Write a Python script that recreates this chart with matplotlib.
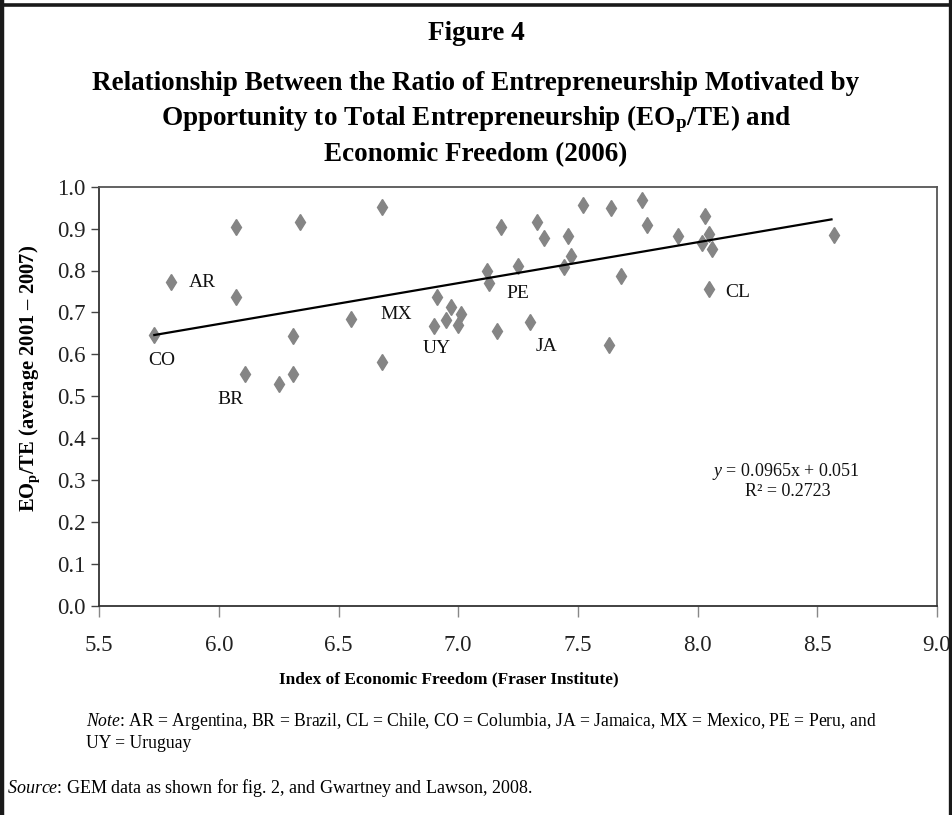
import matplotlib
matplotlib.use("Agg")
import matplotlib.pyplot as plt
from matplotlib.lines import Line2D

plt.rcParams['font.family'] = ['Liberation Serif', 'DejaVu Serif']
plt.rcParams['mathtext.fontset'] = 'custom'
plt.rcParams['mathtext.rm'] = 'Liberation Serif'
plt.rcParams['mathtext.it'] = 'Liberation Serif:italic'
plt.rcParams['mathtext.bf'] = 'Liberation Serif:bold'

# ---- data ----
freedom_index = [5.73, 5.80, 6.07, 6.07, 6.11, 6.34, 6.31, 6.25, 6.31, 6.68,
                 6.55, 6.68, 6.91, 6.90, 6.95, 6.97, 7.01, 7.00, 7.12, 7.13,
                 7.18, 7.16, 7.25, 7.30, 7.33, 7.36, 7.44, 7.46, 7.47, 7.52,
                 7.64, 7.63, 7.68, 7.77, 7.79, 7.92, 8.03, 8.02, 8.05, 8.06,
                 8.05, 8.57]
eop_te_ratio = [0.646, 0.772, 0.903, 0.737, 0.553, 0.916, 0.644, 0.530, 0.553, 0.952,
                0.684, 0.581, 0.736, 0.668, 0.683, 0.714, 0.696, 0.669, 0.800, 0.771,
                0.903, 0.655, 0.811, 0.678, 0.916, 0.878, 0.808, 0.882, 0.835, 0.956,
                0.948, 0.623, 0.788, 0.968, 0.909, 0.882, 0.930, 0.866, 0.887, 0.852,
                0.757, 0.884]

trend_x = [5.73, 8.56]
trend_y = [0.646, 0.922]

country_codes = ['AR', 'CO', 'BR', 'MX', 'UY', 'PE', 'JA', 'CL']
code_x = [5.93, 5.76, 6.05, 6.74, 6.91, 7.25, 7.37, 8.17]
code_y = [0.771, 0.586, 0.491, 0.696, 0.613, 0.746, 0.618, 0.747]

x_ticks = [5.5, 6.0, 6.5, 7.0, 7.5, 8.0, 8.5, 9.0]
y_ticks = [0.0, 0.1, 0.2, 0.3, 0.4, 0.5, 0.6, 0.7, 0.8, 0.9, 1.0]

equation_text = r"$\mathit{y}$ = 0.0965x + 0.051"
r2_text = "R² = 0.2723"

W, H = 952, 815
fig = plt.figure(figsize=(W / 100, H / 100), dpi=100)
fig.patch.set_facecolor('white')

ax = fig.add_axes([99.3 / W, 1 - 605.7 / H, (936.8 - 99.3) / W, (605.7 - 186.7) / H])

ax.plot(freedom_index, eop_te_ratio, linestyle='none', marker='d',
        markersize=8, color='#858585', markeredgecolor='#858585', zorder=3)
ax.plot(trend_x, trend_y, color='black', linewidth=1.6, zorder=4)

for code, cx, cy in zip(country_codes, code_x, code_y):
    ax.text(cx, cy, code, ha='center', va='center', fontsize=14, color='#111111')

ax.text(8.37, 0.321, equation_text, ha='center', va='center', fontsize=13, color='#111111')
ax.text(8.376, 0.272, r2_text, ha='center', va='center', fontsize=13, color='#111111')

ax.set_xlim(5.5, 9.0)
ax.set_ylim(0.0, 1.0)
ax.set_xticks(x_ticks)
ax.set_yticks(y_ticks)
ax.set_xticklabels([f"{v:.1f}" for v in x_ticks])
ax.set_yticklabels([f"{v:.1f}" for v in y_ticks])
ax.tick_params(axis='both', labelsize=16.5, colors='#222222', direction='out')
ax.tick_params(axis='x', length=8, width=1, color='#888888', pad=13)
ax.tick_params(axis='y', length=6, width=1, color='#444444', pad=4)
for side in ['left', 'bottom']:
    ax.spines[side].set_color('#333333')
    ax.spines[side].set_linewidth(1.3)
for side in ['top', 'right']:
    ax.spines[side].set_color('#555555')
    ax.spines[side].set_linewidth(1.3)

# Titles
fig.text(476 / W, 1 - 33 / H, "Figure 4", ha='center', va='center',
         fontsize=19.5, fontweight='bold')
title_lines = ["Relationship Between the Ratio of Entrepreneurship Motivated by",
               r"Opportunity to Total Entrepreneurship (EO$_\mathbf{p}$/TE) and",
               "Economic Freedom (2006)"]
for i, line in enumerate(title_lines):
    fig.text(476 / W, 1 - (83 + 36 * i) / H, line, ha='center', va='center',
             fontsize=19.5, fontweight='bold')

fig.text(30 / W, 1 - 378 / H, r"EO$_\mathbf{p}$/TE (average 2001 – 2007)",
         rotation=90, ha='center', va='center', fontsize=14.8, fontweight='bold')
fig.text(449 / W, 1 - 679 / H, "Index of Economic Freedom (Fraser Institute)",
         ha='center', va='center', fontsize=12.4, fontweight='bold')

fig.text(86 / W, 1 - 722 / H,
         r"$\mathit{Note}$: AR = Argentina, BR = Brazil, CL = Chile, CO = Columbia, JA = Jamaica, MX = Mexico, PE = Peru, and",
         ha='left', va='center', fontsize=12.7)
fig.text(86 / W, 1 - 743 / H, "UY = Uruguay", ha='left', va='center', fontsize=12.7)
fig.text(7 / W, 1 - 788 / H,
         r"$\mathit{Source}$: GEM data as shown for fig. 2, and Gwartney and Lawson, 2008.",
         ha='left', va='center', fontsize=13)

# frame borders (left, top, right)
fig.add_artist(Line2D([2 / W, 2 / W], [0, 1], transform=fig.transFigure,
                      color='#1a1a1a', linewidth=3.2))
fig.add_artist(Line2D([0, 1], [1 - 5 / H, 1 - 5 / H], transform=fig.transFigure,
                      color='#1a1a1a', linewidth=2.6))
fig.add_artist(Line2D([949.5 / W, 949.5 / W], [0, 1], transform=fig.transFigure,
                      color='#1a1a1a', linewidth=2.4))

fig.savefig("out.png", dpi=100, facecolor='white')
